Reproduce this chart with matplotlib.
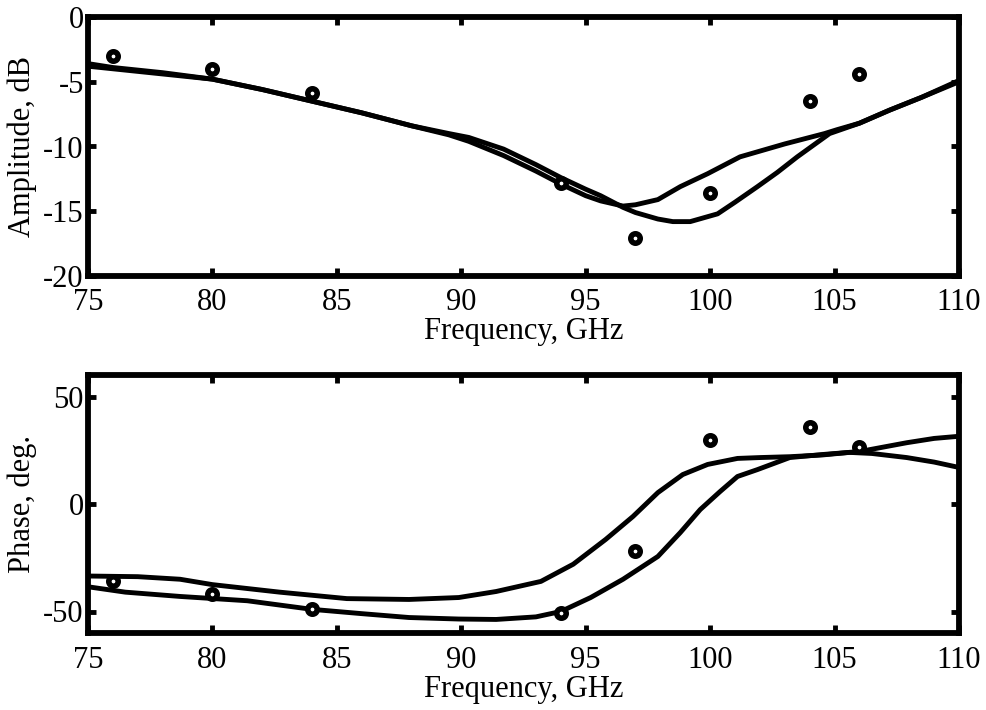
import matplotlib
matplotlib.use("Agg")
import matplotlib.pyplot as plt

plt.rcParams['font.family'] = ['Liberation Serif', 'DejaVu Serif']
plt.rcParams['mathtext.fontset'] = 'stix'

# ---------------- data ----------------
# Amplitude panel
amp_meas_f = [76, 80, 84, 94, 97, 100, 104, 106]
amp_meas_v = [-3.0, -4.0, -5.9, -12.8, -17.1, -13.6, -6.5, -4.4]

amp_a_f = [75, 76, 78, 80, 82, 84, 86, 88, 89.5, 90.3, 91.7, 93, 94, 95, 95.6, 96.5, 97, 97.9, 98.8, 99.9, 101.2, 103, 104.6, 105.1, 106, 107.2, 108.5, 110]
amp_a_v = [-3.6, -3.9, -4.3, -4.8, -5.6, -6.5, -7.4, -8.4, -9.1, -9.6, -10.7, -11.9, -12.9, -13.8, -14.2, -14.6, -14.5, -14.1, -13.1, -12.1, -10.8, -9.8, -9.0, -8.7, -8.2, -7.2, -6.2, -5.0]

amp_b_f = [75, 76, 78, 80, 82, 84, 86, 88, 89.5, 90.3, 91.7, 93, 94, 95, 95.6, 96.5, 97, 97.9, 98.5, 99.2, 100.3, 101, 101.9, 102.7, 103.5, 104.8, 106, 107.2, 108.5, 110]
amp_b_v = [-3.8, -4.0, -4.4, -4.8, -5.6, -6.5, -7.4, -8.4, -9.0, -9.3, -10.2, -11.4, -12.4, -13.3, -13.8, -14.7, -15.1, -15.6, -15.8, -15.8, -15.2, -14.3, -13.1, -12.0, -10.8, -9.0, -8.2, -7.2, -6.2, -4.9]

# Phase panel
ph_meas_f = [76, 80, 84, 94, 97, 100, 104, 106]
ph_meas_v = [-36, -42, -49, -50.5, -22, 30, 35.6, 26.7]

ph_c_f = [75, 77, 78.7, 80, 82.7, 85.4, 87.9, 89.9, 91.4, 93.2, 94.5, 95.8, 96.9, 97.9, 98.9, 99.9, 101.1, 102, 103.2, 104.5, 105.6, 106.5, 107.9, 109, 110]
ph_c_v = [-33.5, -33.8, -35, -37.5, -41, -44, -44.4, -43.5, -40.7, -36, -28, -16.5, -5.8, 5.3, 13.7, 18.4, 21.2, 21.6, 22, 22.8, 24, 23.5, 21.6, 19.5, 17]

ph_d_f = [75, 76.5, 78.7, 81.4, 84, 86, 87.9, 89.9, 91.4, 93, 94, 95.2, 96.5, 97.9, 98.8, 99.6, 100.4, 101.1, 101.9, 103.2, 104.5, 106, 107.9, 109, 110]
ph_d_v = [-38.5, -41, -43, -45, -49, -51, -52.8, -53.5, -53.7, -52.5, -50, -43.5, -35, -24.4, -13.3, -2.6, 5.8, 12.8, 16, 21.6, 23, 24.4, 28.5, 30.5, 31.5]

x_ticks = [75, 80, 85, 90, 95, 100, 105, 110]
amp_ticks = [-20, -15, -10, -5, 0]
ph_ticks = [-50, 0, 50]

# ---------------- figure ----------------
W, H = 987, 710
fig = plt.figure(figsize=(W / 100, H / 100), dpi=100)

ax1 = fig.add_axes([88 / W, 1 - 276 / H, (959 - 88) / W, (276 - 17) / H])
ax2 = fig.add_axes([88 / W, 1 - 633 / H, (959 - 88) / W, (633 - 375) / H])

line_kw = dict(color='black', lw=3.5, solid_capstyle='round', solid_joinstyle='round')
mark_kw = dict(linestyle='none', marker='o', ms=6.8, mfc='white', mec='black', mew=4.0)

FS = 22

ax1.plot(amp_a_f, amp_a_v, **line_kw)
ax1.plot(amp_b_f, amp_b_v, **line_kw)
ax1.plot(amp_meas_f, amp_meas_v, **mark_kw)
ax1.set_xlim(75, 110)
ax1.set_ylim(-20, 0)
ax1.set_yticks(amp_ticks)
ax1.set_yticklabels([str(t) for t in amp_ticks])
ax1.set_ylabel('Amplitude, dB', fontsize=FS)

ax2.plot(ph_c_f, ph_c_v, **line_kw)
ax2.plot(ph_d_f, ph_d_v, **line_kw)
ax2.plot(ph_meas_f, ph_meas_v, **mark_kw)
ax2.set_xlim(75, 110)
ax2.set_ylim(-60, 60)
ax2.set_yticks(ph_ticks)
ax2.set_yticklabels([str(t) for t in ph_ticks])
ax2.set_ylabel('Phase, deg.', fontsize=FS)

for ax in (ax1, ax2):
    ax.set_xticks(x_ticks)
    ax.set_xticklabels([str(t) for t in x_ticks])
    ax.set_xlabel('Frequency, GHz', fontsize=FS, labelpad=0)
    ax.tick_params(direction='in', length=6, width=3.5, labelsize=FS,
                   top=True, right=True)
    ax.tick_params(axis='x', pad=9)
    ax.tick_params(axis='y', pad=3)
    for s in ax.spines.values():
        s.set_linewidth(4.2)
    ax.yaxis.set_label_coords(-0.058, 0.5)

fig.savefig('out.png', dpi=100)
